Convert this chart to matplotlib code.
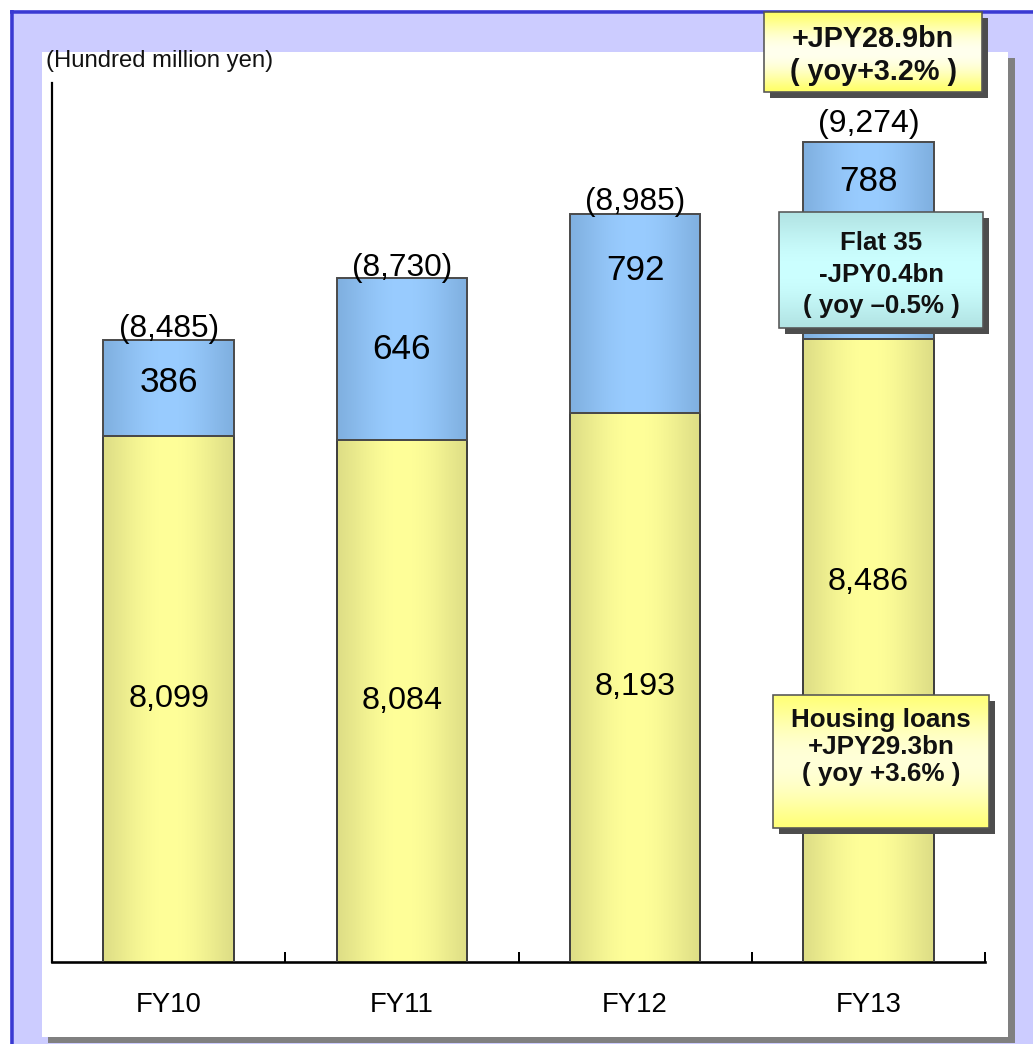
import numpy as np
import matplotlib
matplotlib.use("Agg")
import matplotlib.pyplot as plt
from matplotlib.patches import Rectangle

# ---- data (hundred million yen) ----
years = ["FY10", "FY11", "FY12", "FY13"]
housing_loans = [8099, 8084, 8193, 8486]
flat35 = [386, 646, 792, 788]
totals = [8485, 8730, 8985, 9274]

# ---- label placement (layout only) ----
flat35_label_frac = [0.555, 0.56, 0.72, 0.80]   # height within the blue segment
housing_label_frac = [0.50, 0.50, 0.50, 0.61]   # height within the visible yellow segment
total_gap_px = [3, 2, 4, 10]                    # gap between bar top and total label
total_size = [22.8, 22.8, 22.8, 23.0]

plt.rcParams["font.family"] = ["Liberation Sans", "DejaVu Sans"]

W, H, DPI = 1033, 1044, 100
PX = 72.0 / DPI  # points per pixel
fig = plt.figure(figsize=(W / DPI, H / DPI), dpi=DPI, facecolor="white")


def pixel_axes(z):
    a = fig.add_axes([0, 0, 1, 1], zorder=z)
    a.set_xlim(0, W)
    a.set_ylim(H, 0)
    a.axis("off")
    return a


# ---- slide background ----
bg = pixel_axes(0)
bg.add_patch(Rectangle((10, 10), W - 10, H - 10, fc="#ccccff", ec="none"))
bg.plot([10, W], [11.5, 11.5], color="#3a3ad2", lw=3.5 * PX, solid_capstyle="butt")
bg.plot([11.5, 11.5], [10, H], color="#3a3ad2", lw=3.5 * PX, solid_capstyle="butt")
bg.add_patch(Rectangle((48, 1037), 1015 - 48, 6, fc="#808080", ec="none"))
bg.add_patch(Rectangle((1008, 58), 7, 1043 - 58, fc="#808080", ec="none"))
bg.add_patch(Rectangle((42, 52), 1008 - 42, 1037 - 52, fc="white", ec="none"))
bg.text(46, 61, "(Hundred million yen)", fontsize=17.2, ha="left", va="center",
        color="#111111")
bg.set_xlim(0, W)
bg.set_ylim(H, 0)

# ---- main chart ----
ax = fig.add_axes([52 / W, (H - 962) / H, (985 - 52) / W, (962 - 83) / H], zorder=1)
ax.patch.set_alpha(0)
YMIN, YMAX = 6000, 9510
x = np.arange(len(years))
bar_w = 0.56


def hgrad(edge, mid, n=128):
    t = np.linspace(0, 1, n)
    w = np.sin(np.pi * t) ** 1.2
    edge = np.array(matplotlib.colors.to_rgb(edge))
    mid = np.array(matplotlib.colors.to_rgb(mid))
    return (edge[None, :] + (mid - edge)[None, :] * w[:, None])


yellow_grad = hgrad("#dede86", "#ffff99")[None, :, :]
blue_grad = hgrad("#80b0e0", "#99ccff")[None, :, :]

yellow_bars = ax.bar(x, housing_loans, bar_w, color="none", edgecolor="#3c3c3c",
                     linewidth=1.4, zorder=3)
blue_bars = ax.bar(x, flat35, bar_w, bottom=housing_loans, color="none",
                   edgecolor="#4a4a4a", linewidth=1.4, zorder=3)

for bars, grad in ((yellow_bars, yellow_grad), (blue_bars, blue_grad)):
    for b in bars:
        x0, y0 = b.get_x(), b.get_y()
        x1, y1 = x0 + b.get_width(), y0 + b.get_height()
        im = ax.imshow(grad, extent=(x0, x1, max(y0, YMIN), y1), aspect="auto",
                       interpolation="bilinear", zorder=2)
        im.set_clip_path(b)

for i in range(len(years)):
    yb = YMIN + (housing_loans[i] - YMIN) * housing_label_frac[i]
    ax.text(x[i], yb, f"{housing_loans[i]:,}", ha="center", va="center",
            fontsize=23.3, zorder=4)
    yf = housing_loans[i] + flat35[i] * flat35_label_frac[i]
    ax.text(x[i], yf, f"{flat35[i]:,}", ha="center", va="center",
            fontsize=25.3, zorder=4)
    ax.annotate(f"({totals[i]:,})", (x[i], housing_loans[i] + flat35[i]),
                xytext=(0, total_gap_px[i] * PX), textcoords="offset points",
                ha="center", va="baseline", fontsize=total_size[i], zorder=4)

ax.set_xlim(-0.5, len(years) - 0.5)
ax.set_ylim(YMIN, YMAX)
for s in ("top", "right"):
    ax.spines[s].set_visible(False)
ax.spines["left"].set_linewidth(2.2 * PX)
ax.spines["bottom"].set_linewidth(2.6 * PX)
ax.set_yticks([])
# boundary ticks between categories, category names underneath
ax.set_xticks(np.arange(len(years)) + 0.5)
ax.set_xticklabels([])
ax.tick_params(axis="x", which="major", direction="in", length=10 * PX,
               width=2 * PX)
ax.set_xticks(x, minor=True)
ax.set_xticklabels(years, minor=True, fontsize=19.8)
ax.tick_params(axis="x", which="minor", length=0, pad=30 * PX)

# ---- callout boxes ----
ov = pixel_axes(2)


def callout(x0, y0, x1, y1, edge, mid, lines, size, ys):
    ov.add_patch(Rectangle((x0 + 6, y0 + 6), x1 - x0, y1 - y0, fc="#4d4d4d",
                           ec="none", zorder=1))
    g = hgrad(edge, mid)[:, None, :]
    ov.imshow(g, extent=(x0, x1, y1, y0), aspect="auto",
              interpolation="bilinear", zorder=2)
    ov.add_patch(Rectangle((x0, y0), x1 - x0, y1 - y0, fc="none",
                           ec="#555555", lw=1.6 * PX, zorder=3))
    for t, yy in zip(lines, ys):
        ov.text((x0 + x1) / 2, yy, t, ha="center", va="center", fontsize=size,
                fontweight="bold", color="#111111", zorder=4)


callout(764, 12, 982, 92, "#ffff66", "#ffffee",
        ["+JPY28.9bn", "( yoy+3.2% )"], 20.7, [39, 72])
callout(779, 212, 983, 328, "#b2e4e4", "#ccffff",
        ["Flat 35", "-JPY0.4bn", "( yoy \u20130.5% )"], 18.6, [243, 275, 306])
callout(773, 695, 989, 828, "#ffff77", "#ffffd8",
        ["Housing loans", "+JPY29.3bn", "( yoy +3.6% )"], 18.7, [720, 747, 774])
ov.set_xlim(0, W)
ov.set_ylim(H, 0)

fig.savefig("out.png", dpi=DPI, facecolor="white")
